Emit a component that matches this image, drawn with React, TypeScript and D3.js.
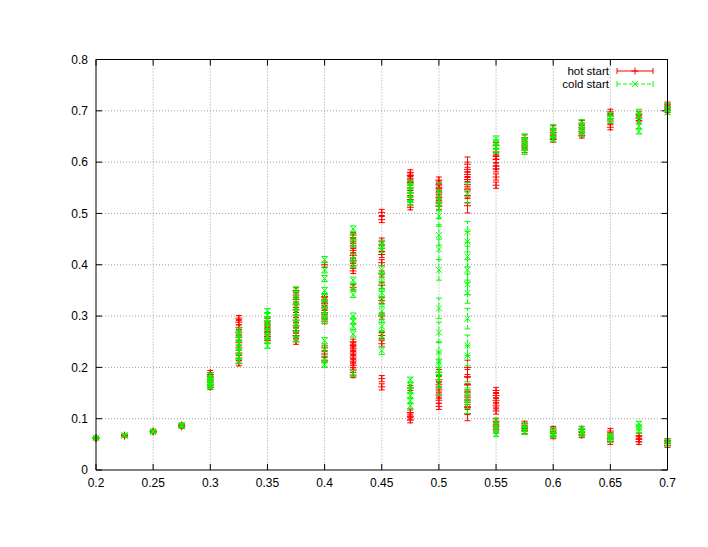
import React from 'react';
import * as d3 from 'd3';

const xs = [0.2, 0.225, 0.25, 0.275, 0.3, 0.325, 0.35, 0.375, 0.4, 0.425, 0.45, 0.475, 0.5, 0.525, 0.55, 0.575, 0.6, 0.625, 0.65, 0.675, 0.7];

const hotY: number[][] = [
  [0.061, 0.062, 0.063],
  [0.066, 0.067, 0.068],
  [0.074, 0.075, 0.076],
  [0.084, 0.086, 0.088],
  [0.19, 0.186, 0.181, 0.176, 0.171, 0.166, 0.161],
  [0.296, 0.288, 0.278, 0.268, 0.258, 0.248, 0.238, 0.228, 0.218, 0.208],
  [0.29, 0.283, 0.275, 0.268, 0.26, 0.252],
  [0.35, 0.341, 0.332, 0.322, 0.312, 0.302, 0.292, 0.282, 0.272, 0.262, 0.25],
  [0.4, 0.338, 0.331, 0.324, 0.316, 0.307, 0.298, 0.29, 0.238, 0.226, 0.214],
  [0.458, 0.446, 0.437, 0.428, 0.418, 0.408, 0.398, 0.388, 0.356, 0.25, 0.243, 0.236, 0.228, 0.22, 0.212, 0.204, 0.195, 0.185],
  [0.502, 0.488, 0.446, 0.432, 0.42, 0.404, 0.382, 0.36, 0.33, 0.3, 0.262, 0.246, 0.178, 0.162],
  [0.58, 0.574, 0.567, 0.56, 0.55, 0.54, 0.527, 0.512, 0.16, 0.112, 0.104, 0.097],
  [0.565, 0.557, 0.549, 0.54, 0.531, 0.522, 0.514, 0.19, 0.176, 0.166, 0.156, 0.146, 0.136, 0.124],
  [0.596, 0.586, 0.576, 0.566, 0.556, 0.546, 0.535, 0.515, 0.2, 0.182, 0.166, 0.152, 0.142, 0.132, 0.122, 0.11],
  [0.632, 0.62, 0.612, 0.605, 0.592, 0.587, 0.571, 0.555, 0.155, 0.145, 0.135, 0.125, 0.115, 0.095, 0.086, 0.078],
  [0.648, 0.64, 0.632, 0.624, 0.09, 0.082, 0.076],
  [0.666, 0.658, 0.651, 0.644, 0.08, 0.072, 0.066],
  [0.676, 0.668, 0.66, 0.652, 0.08, 0.074, 0.068],
  [0.698, 0.69, 0.68, 0.668, 0.076, 0.068, 0.061, 0.055],
  [0.693, 0.686, 0.68, 0.067, 0.06, 0.055],
  [0.713, 0.707, 0.701, 0.057, 0.052, 0.048],
];
const hotErr = [0.002, 0.002, 0.002, 0.003, 0.004, 0.005, 0.005, 0.005, 0.005, 0.005, 0.006, 0.005, 0.006, 0.014, 0.006, 0.005, 0.005, 0.005, 0.005, 0.005, 0.004];

const coldY: number[][] = [
  [0.062, 0.063],
  [0.067, 0.068],
  [0.074, 0.076],
  [0.085, 0.088],
  [0.185, 0.18, 0.175, 0.17, 0.166, 0.162],
  [0.272, 0.264, 0.256, 0.247, 0.238, 0.23, 0.221, 0.212],
  [0.31, 0.302, 0.294, 0.286, 0.278, 0.27, 0.262, 0.252, 0.242],
  [0.352, 0.342, 0.33, 0.318, 0.306, 0.296, 0.286, 0.275, 0.265, 0.255],
  [0.41, 0.39, 0.373, 0.35, 0.336, 0.322, 0.31, 0.3, 0.292, 0.252, 0.236, 0.216, 0.206],
  [0.47, 0.455, 0.44, 0.415, 0.4, 0.37, 0.357, 0.342, 0.3, 0.29, 0.28, 0.265, 0.188],
  [0.44, 0.432, 0.39, 0.376, 0.356, 0.345, 0.33, 0.31, 0.295, 0.28, 0.262, 0.233],
  [0.56, 0.553, 0.545, 0.536, 0.527, 0.52, 0.176, 0.165, 0.155, 0.145, 0.135, 0.125],
  [0.54, 0.525, 0.51, 0.495, 0.458, 0.43, 0.39, 0.315, 0.268, 0.23, 0.21, 0.196, 0.18, 0.166],
  [0.54, 0.464, 0.445, 0.416, 0.39, 0.362, 0.345, 0.295, 0.243, 0.223, 0.152, 0.14, 0.13],
  [0.646, 0.638, 0.63, 0.622, 0.095, 0.086, 0.078, 0.07],
  [0.65, 0.642, 0.635, 0.628, 0.62, 0.088, 0.08, 0.074],
  [0.668, 0.66, 0.652, 0.645, 0.078, 0.072, 0.068],
  [0.678, 0.67, 0.662, 0.655, 0.08, 0.075, 0.07],
  [0.693, 0.687, 0.68, 0.068, 0.063, 0.058],
  [0.698, 0.69, 0.68, 0.67, 0.66, 0.09, 0.083, 0.077],
  [0.71, 0.703, 0.697, 0.056, 0.051],
];
const coldErr = [0.002, 0.002, 0.002, 0.003, 0.004, 0.005, 0.005, 0.005, 0.006, 0.006, 0.008, 0.005, 0.02, 0.02, 0.005, 0.005, 0.005, 0.005, 0.004, 0.005, 0.004];

const xTicks = [0.2, 0.25, 0.3, 0.35, 0.4, 0.45, 0.5, 0.55, 0.6, 0.65, 0.7];
const xTickLabels = ['0.2', '0.25', '0.3', '0.35', '0.4', '0.45', '0.5', '0.55', '0.6', '0.65', '0.7'];
const yTicks = [0, 0.1, 0.2, 0.3, 0.4, 0.5, 0.6, 0.7, 0.8];
const yTickLabels = ['0', '0.1', '0.2', '0.3', '0.4', '0.5', '0.6', '0.7', '0.8'];
const seriesNames = ['hot start', 'cold start'];

const W = 708;
const H = 547;
const left = 96, right = 667.5, top = 59.5, bottom = 470;
const font = '"Liberation Sans", Arial, sans-serif';

const plus = (cx: number, cy: number) => `M${cx - 3.5},${cy}h7M${cx},${cy - 3.5}v7`;
const cross = (cx: number, cy: number) => `M${cx - 3},${cy - 3}l6,6M${cx - 3},${cy + 3}l6,-6`;

const App = () => {
  const x = d3.scaleLinear().domain([0.2, 0.7]).range([left, right]);
  const y = d3.scaleLinear().domain([0, 0.8]).range([bottom, top]);

  const build = (vals: number[][], errs: number[]) =>
    xs.flatMap((xv, i) => vals[i].map(v => ({ x: xv, y: v, e: errs[i] })));
  const hot = build(hotY, hotErr);
  const cold = build(coldY, coldErr);

  const errBar = (p: { x: number; y: number; e: number }, k: number, color: string, dash?: string, marker?: (a: number, b: number) => string) => {
    const cx = x(p.x);
    const y1 = y(p.y - p.e);
    const y2 = y(p.y + p.e);
    return (
      <g key={k} stroke={color} strokeWidth={1} fill="none">
        <line x1={cx} x2={cx} y1={y1} y2={y2} strokeDasharray={dash} />
        <line x1={cx - 3} x2={cx + 3} y1={y1} y2={y1} />
        <line x1={cx - 3} x2={cx + 3} y1={y2} y2={y2} />
        {marker && <path d={marker(cx, y(p.y))} />}
      </g>
    );
  };

  return (
    <svg width={W} height={H} style={{ position: 'absolute', left: 0, top: 0, background: '#fff' }} fontFamily={font} fontSize={12}>
      {/* grid */}
      {xTicks.slice(1, -1).map(t => (
        <line key={'gx' + t} x1={x(t)} x2={x(t)} y1={top} y2={bottom} stroke="#a0a0a0" strokeDasharray="1,2" />
      ))}
      {yTicks.slice(1, -1).map(t => (
        <line key={'gy' + t} x1={left} x2={right} y1={y(t)} y2={y(t)} stroke="#a0a0a0" strokeDasharray="1,2" />
      ))}

      {/* ticks, mirrored */}
      {xTicks.map(t => (
        <g key={'tx' + t} stroke="#000">
          <line x1={x(t)} x2={x(t)} y1={bottom} y2={bottom - 6} />
          <line x1={x(t)} x2={x(t)} y1={top} y2={top + 6} />
        </g>
      ))}
      {yTicks.map(t => (
        <g key={'ty' + t} stroke="#000">
          <line x1={left} x2={left + 6} y1={y(t)} y2={y(t)} />
          <line x1={right} x2={right - 6} y1={y(t)} y2={y(t)} />
        </g>
      ))}

      {/* tick labels */}
      {xTicks.map((t, i) => (
        <text key={'lx' + t} x={x(t)} y={487} textAnchor="middle" fill="#000">{xTickLabels[i]}</text>
      ))}
      {yTicks.map((t, i) => (
        <text key={'ly' + t} x={88} y={y(t)} dy="0.35em" textAnchor="end" fill="#000">{yTickLabels[i]}</text>
      ))}

      {/* series */}
      {hot.map((p, k) => errBar(p, k, '#ff0000', undefined, plus))}
      {cold.map((p, k) => errBar(p, k, '#00ff00', '4,2', cross))}

      {/* border */}
      <path d={`M${left},${top}H${right}V${bottom}H${left}Z`} fill="none" stroke="#000" strokeWidth={1} />

      {/* legend */}
      {seriesNames.map((name, i) => {
        const ly = 71 + i * 13;
        const color = i === 0 ? '#ff0000' : '#00ff00';
        return (
          <g key={name}>
            <text x={609} y={ly} dy="0.35em" textAnchor="end" fill="#000" fontSize={11.5}>{name}</text>
            <g stroke={color} fill="none">
              <line x1={617} x2={653} y1={ly} y2={ly} strokeDasharray={i === 1 ? '4,2' : undefined} />
              <line x1={617} x2={617} y1={ly - 3} y2={ly + 3} />
              <line x1={653} x2={653} y1={ly - 3} y2={ly + 3} />
              <path d={i === 0 ? plus(635, ly) : cross(635, ly)} />
            </g>
          </g>
        );
      })}
    </svg>
  );
};

export default App;
